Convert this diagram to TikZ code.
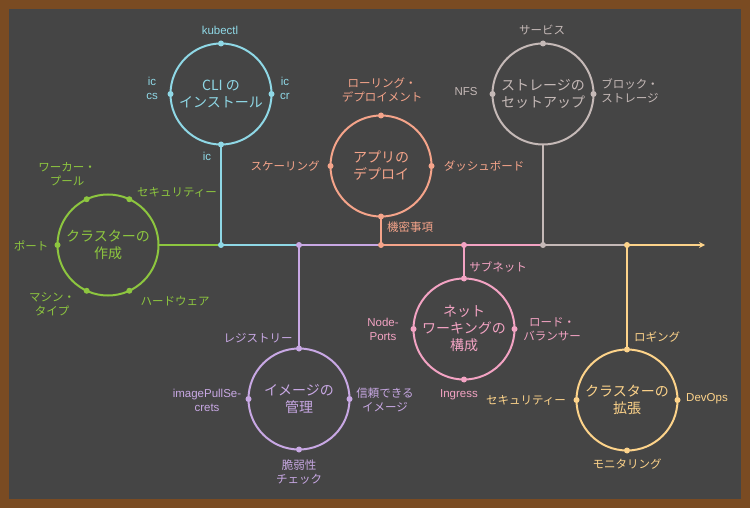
\documentclass[tikz,border=0pt]{standalone}
\usepackage{fontspec}
\setmainfont{Liberation Sans}
\newfontfamily\jp{Noto Sans CJK JP}
\usetikzlibrary{arrows.meta}
\definecolor{bgc}{HTML}{454545}
\definecolor{rim}{HTML}{7A4B22}
\definecolor{cgreen}{HTML}{8DC63F}
\definecolor{ccyan}{HTML}{8FD8E6}
\definecolor{csalmon}{HTML}{F5A48A}
\definecolor{cgray}{HTML}{C5B9B7}
\definecolor{cpurple}{HTML}{C8A8E4}
\definecolor{cpink}{HTML}{F3A3C3}
\definecolor{cyellow}{HTML}{FDD38A}
\tikzset{hub/.style={draw,circle,line width=2pt,minimum size=101pt,inner sep=0pt,outer sep=0pt,align=center,font=\jp\fontsize{14}{17}\selectfont},
 lbl/.style={align=center,inner sep=1pt,font=\jp\fontsize{11.5}{14}\selectfont},
 lat/.style={lbl,font=\fontsize{11.5}{14}\selectfont},
 jdot/.style={fill,circle,inner sep=0pt,minimum size=6pt},
 wire/.style={line width=2pt}}

\begin{document}
\begin{tikzpicture}[x=1pt,y=-1pt]
\useasboundingbox (0,0) rectangle (750,508);
\fill[rim] (0,0) rectangle (750,508);
\fill[bgc] (9,9) rectangle (741,499);
% spine
\coordinate (j1) at (221,245);\coordinate (j2) at (299,245);
\coordinate (j3) at (381,245);\coordinate (j4) at (464,245);
\coordinate (j5) at (543,245);\coordinate (j6) at (627,245);
\coordinate (tip) at (705,245);
% create cluster
\node[hub,draw=cgreen,text=cgreen](gc) at(108,245){クラスターの\\作成};
\node[lbl,text=cgreen](gw) at(67,174){ワーカー・\\プール};
\node[lbl,text=cgreen](gs) at(177,192){セキュリティー};
\node[lbl,text=cgreen](gp) at(31,246){ポート};
\node[lbl,text=cgreen](gm) at(52,304){マシン・\\タイプ};
\node[lbl,text=cgreen](gh) at(175,301){ハードウェア};
\foreach \a in {65,115,180,245,295} \node[jdot,cgreen](g\a) at(gc.\a){};
% CLI
\node[hub,draw=ccyan,text=ccyan](cc) at(221,94){CLI の\\インストール};
\node[lat,text=ccyan](ck) at(220,30){kubectl};
\node[lat,text=ccyan](cl) at(152,88){ic\\cs};
\node[lat,text=ccyan](cr) at(285,88){ic\\cr};
\node[lat,text=ccyan](cb) at(207,156){ic};
\foreach \a in {0,90,180,270} \node[jdot,ccyan](c\a) at(cc.\a){};
% deploy app
\node[hub,draw=csalmon,text=csalmon](sc) at(381,166){アプリの\\デプロイ};
\node[lbl,text=csalmon](sr) at(382,90){ローリング・\\デプロイメント};
\node[lbl,text=csalmon](ss) at(285,166){スケーリング};
\node[lbl,text=csalmon](sd) at(484,166){ダッシュボード};
\node[lbl,text=csalmon](sk) at(410,227){機密事項};
\foreach \a in {0,90,180,270} \node[jdot,csalmon](s\a) at(sc.\a){};
% storage
\node[hub,draw=cgray,text=cgray](rc) at(543,94){ストレージの\\セットアップ};
\node[lbl,text=cgray](rs) at(542,30){サービス};
\node[lat,text=cgray](rn) at(466,92){NFS};
\node[lbl,text=cgray](rb) at(630,91){ブロック・\\ストレージ};
\foreach \a in {0,90,180} \node[jdot,cgray](r\a) at(rc.\a){};
% images
\node[hub,draw=cpurple,text=cpurple](pc) at(299,399){イメージの\\管理};
\node[lbl,text=cpurple](pr) at(258,338){レジストリー};
\node[lat,text=cpurple](pi) at(207,400){imagePullSe-\\crets};
\node[lbl,text=cpurple](pt) at(385,400){信頼できる\\イメージ};
\node[lbl,text=cpurple](pv) at(299,472){脆弱性\\チェック};
\foreach \a in {0,90,180,270} \node[jdot,cpurple](p\a) at(pc.\a){};
% networking
\node[hub,draw=cpink,text=cpink](kc) at(464,329){ネット\\ワーキングの\\構成};
\node[lbl,text=cpink](ks) at(498,267){サブネット};
\node[lat,text=cpink](kn) at(383,329){Node-\\Ports};
\node[lbl,text=cpink](kl) at(552,329){ロード・\\バランサー};
\node[lat,text=cpink](ki) at(459,395){Ingress};
\foreach \a in {0,90,180,270} \node[jdot,cpink](k\a) at(kc.\a){};
% extend cluster
\node[hub,draw=cyellow,text=cyellow](yc) at(627,400){クラスターの\\拡張};
\node[lbl,text=cyellow](yl) at(657,337){ロギング};
\node[lbl,text=cyellow](ys) at(526,400){セキュリティー};
\node[lat,text=cyellow](yd) at(707,399){DevOps};
\node[lbl,text=cyellow](ym) at(627,464){モニタリング};
\foreach \a in {0,90,180,270} \node[jdot,cyellow](y\a) at(yc.\a){};
% connectors
\draw[wire,cgreen](gc.east)--(j1);
\draw[wire,ccyan](j1)--(j2);
\draw[wire,cpurple](j2)--(j3);
\draw[wire,csalmon](j3)--(j4);
\draw[wire,cpink](j4)--(j5);
\draw[wire,cgray](j5)--(j6);
\draw[wire,cyellow,-{Stealth[length=6pt,width=6pt]}](j6)--(tip);
\draw[wire,ccyan](cc.south)--(j1);
\draw[wire,csalmon](sc.south)--(j3);
\draw[wire,cgray](rc.south)--(j5);
\draw[wire,cpurple](j2)--(pc.north);
\draw[wire,cpink](j4)--(kc.north);
\draw[wire,cyellow](j6)--(yc.north);
\node[jdot,ccyan](d1) at(j1){};\node[jdot,cpurple](d2) at(j2){};
\node[jdot,csalmon](d3) at(j3){};\node[jdot,cpink](d4) at(j4){};
\node[jdot,cgray](d5) at(j5){};\node[jdot,cyellow](d6) at(j6){};
\end{tikzpicture}
\end{document}
